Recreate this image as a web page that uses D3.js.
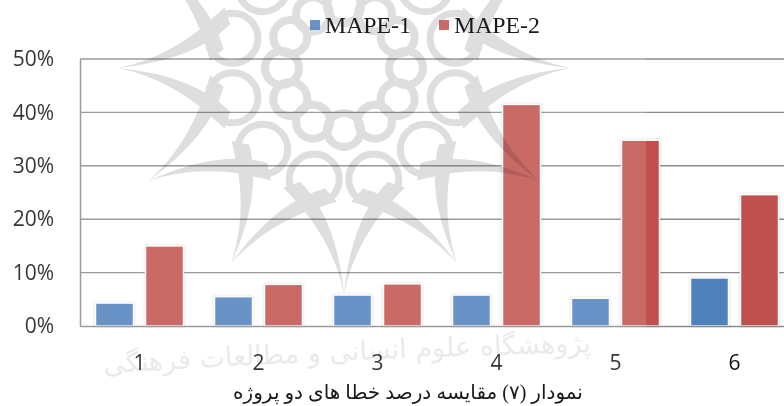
<!DOCTYPE html>
<html>
<head>
<meta charset="utf-8">
<script src="https://cdn.jsdelivr.net/npm/d3@7"></script>
<style>
  body { margin: 0; background: #fff; }
  svg { display: block; }
</style>
</head>
<body>
<div id="chart"></div>
<script>
var categories = ["1", "2", "3", "4", "5", "6"];
var seriesNames = ["MAPE-1", "MAPE-2"];
var mape1 = [4.3, 5.5, 5.8, 5.8, 5.2, 9.0];
var mape2 = [15.0, 7.8, 7.9, 41.5, 34.8, 24.6];
var yTicks = [0, 10, 20, 30, 40, 50];
var seriesColors = ["#4f81bd", "#c0504d"];
var caption = "نمودار (۷) مقایسه درصد خطا های دو پروژه";
var watermarkText = "پژوهشگاه علوم انسانی و مطالعات فرهنگی";

var svg = d3.select("#chart")
  .append("svg")
  .attr("width", 784)
  .attr("height", 406);

// the plot runs off the right edge of the page, as in the scan
var x = d3.scaleBand().domain(categories).range([80, 794]);
var x1 = d3.scaleBand().domain(seriesNames).range([0, x.bandwidth()])
    .paddingInner(0.24).paddingOuter(0.31);
var y = d3.scaleLinear().domain([0, 50]).range([326, 59]);

// gridlines
svg.append("g")
    .selectAll("line")
    .data(yTicks.slice(1))
    .enter().append("line")
    .attr("x1", 80)
    .attr("x2", 784)
    .attr("y1", function(d) { return y(d); })
    .attr("y2", function(d) { return y(d); })
    .attr("stroke", "#8a8a8a")
    .attr("stroke-width", 1.4);

// bars
seriesNames.forEach(function(name, i) {
  var values = i == 0 ? mape1 : mape2;
  svg.append("g")
      .selectAll("rect")
      .data(values)
      .enter().append("rect")
      .attr("x", function(d, j) { return x(categories[j]) + x1(name); })
      .attr("y", function(d) { return y(d); })
      .attr("width", x1.bandwidth())
      .attr("height", function(d) { return y(0) - y(d); })
      .attr("fill", seriesColors[i])
      .attr("stroke", "#fff")
      .attr("stroke-width", 1.5)
      .style("filter", "drop-shadow(0 0 1px rgba(0,0,0,0.18))");
});

// axes
var yAxis = d3.axisLeft(y)
    .tickValues(yTicks)
    .tickSize(0)
    .tickPadding(26)
    .tickFormat(function(d) { return d + "%"; });
var xAxis = d3.axisBottom(x)
    .tickSize(0)
    .tickPadding(29);

var gy = svg.append("g").attr("transform", "translate(80,0)").call(yAxis);
var gx = svg.append("g").attr("transform", "translate(0,326)").call(xAxis);
gy.selectAll("text").style("font", "21px 'Open Sans'").attr("fill", "#111");
gx.selectAll("text").style("font", "21px 'Open Sans'").attr("fill", "#111");
gy.select(".domain").attr("stroke", "#8a8a8a").attr("stroke-width", 1.5);
gx.select(".domain").attr("stroke", "#8a8a8a").attr("stroke-width", 1.5);

// the pale scan layer that stops short of the last group
svg.append("rect")
    .attr("width", 646)
    .attr("height", 406)
    .attr("fill", "#fff")
    .attr("opacity", 0.15);

// rosette watermark
var mark = svg.append("g")
    .attr("transform", "translate(344,68)")
    .attr("fill", "none")
    .style("mix-blend-mode", "multiply");

function polar(r, a) { return [r * Math.cos(a), r * Math.sin(a)]; }

var step = Math.PI / 6;
d3.range(12).forEach(function(k) {
  var a = k * step;
  var lobe = polar(115, a + step / 2);
  mark.append("circle")
      .attr("cx", lobe[0])
      .attr("cy", lobe[1])
      .attr("r", 25)
      .attr("stroke", "#dedede")
      .attr("stroke-width", 7);

  var inner = polar(62, a);
  mark.append("circle")
      .attr("cx", inner[0])
      .attr("cy", inner[1])
      .attr("r", 17)
      .attr("stroke", "#dedede")
      .attr("stroke-width", 8);

  // thin crescents that meet in a spike
  var tip = polar(226, a);
  [-1, 1].forEach(function(side) {
    var end = polar(134, a + side * step * 0.9);
    var endIn = polar(122, a + side * step * 0.7);
    var c1 = polar(168, a + side * 0.07);
    var c2 = polar(150, a + side * 0.05);
    mark.append("path")
        .attr("d", "M" + tip + "Q" + c1 + " " + end + "L" + endIn + "Q" + c2 + " " + tip + "Z")
        .attr("fill", "#dedede");
  });
});

// curved watermark text under the axis
svg.append("path")
    .attr("id", "markArc")
    .attr("d", "M95,374Q345,358 600,352")
    .attr("fill", "none");
svg.append("text")
    .attr("font-family", "'DejaVu Sans'")
    .attr("font-size", 27)
    .attr("fill", "#eaeaea")
    .style("mix-blend-mode", "multiply")
    .append("textPath")
    .attr("href", "#markArc")
    .attr("startOffset", "50%")
    .attr("text-anchor", "middle")
    .text(watermarkText);

// legend
var legendX = [310, 439];
seriesNames.forEach(function(name, i) {
  svg.append("rect")
      .attr("x", legendX[i])
      .attr("y", 20)
      .attr("width", 10)
      .attr("height", 10)
      .attr("fill", seriesColors[i])
      .attr("opacity", 0.85);
  svg.append("text")
      .attr("x", legendX[i] + 15)
      .attr("y", 33)
      .attr("font-family", "'Liberation Serif'")
      .attr("font-size", 23.8)
      .attr("fill", "#1a1a1a")
      .text(name);
});

// caption
svg.append("text")
    .attr("x", 408)
    .attr("y", 399)
    .attr("text-anchor", "middle")
    .attr("direction", "rtl")
    .attr("font-family", "'Liberation Serif','DejaVu Sans'")
    .attr("font-size", 20)
    .attr("fill", "#1a1a1a")
    .text(caption);
</script>
</body>
</html>
